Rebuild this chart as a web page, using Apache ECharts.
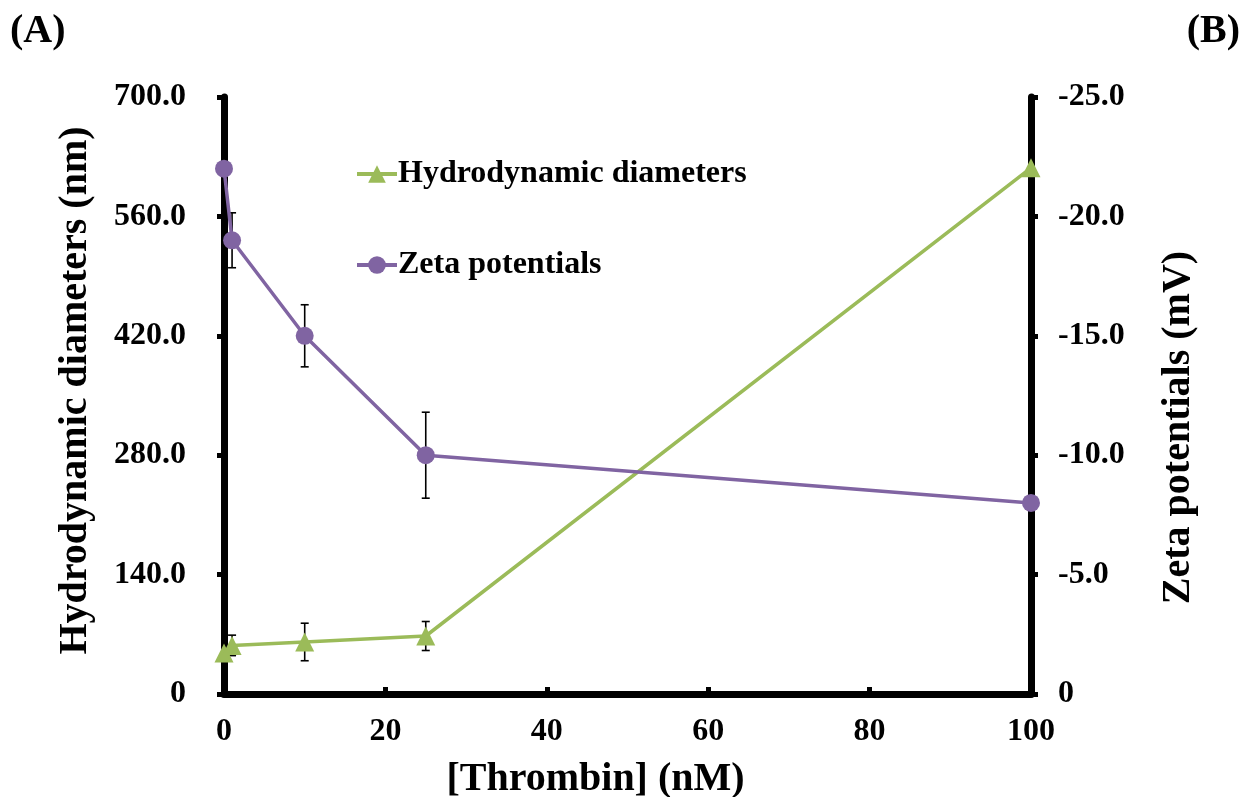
<!DOCTYPE html>
<html>
<head>
<meta charset="utf-8">
<script src="https://cdn.jsdelivr.net/npm/echarts@6/dist/echarts.min.js"></script>
<style>
  html, body { margin: 0; padding: 0; background: #fff; }
  #chart { width: 1244px; height: 797px; }
</style>
</head>
<body>
<div id="chart"></div>
<script>
// Thrombin concentration (nM)
const conc = [0, 1, 10, 25, 100];
// Hydrodynamic diameters (nm) and their error bars
const diameters = [48, 57, 61, 68, 617];
const diameterErr = [0, 12, 22, 17, 0];
// Zeta potentials (mV) and their error bars
const zeta = [-22, -19, -15, -10, -8];
const zetaErr = [0, 1.15, 1.3, 1.8, 0];

const xTicks = { min: 0, max: 100, interval: 20 };
const leftTicks = { min: 0, max: 700, interval: 140 };
const rightTicks = { min: -25, max: 0, interval: 5 };

const FONT = '"Liberation Serif", "Times New Roman", serif';
const GREEN = '#9bbb59';
const PURPLE = '#8064a2';

const pairs = (xs, ys) => xs.map((x, i) => [x, ys[i]]);
const errData = (xs, ys, es) => xs.map((x, i) => [x, ys[i], es[i]]);

function errorBar(params, api) {
  const x = api.value(0), y = api.value(1), e = api.value(2);
  if (!e) return null;
  const hi = api.coord([x, y + e]);
  const lo = api.coord([x, y - e]);
  const cap = 4;
  const style = { stroke: '#000', lineWidth: 1.6 };
  return {
    type: 'group',
    children: [
      { type: 'line', shape: { x1: hi[0], y1: hi[1], x2: lo[0], y2: lo[1] }, style },
      { type: 'line', shape: { x1: hi[0] - cap, y1: hi[1], x2: hi[0] + cap, y2: hi[1] }, style },
      { type: 'line', shape: { x1: lo[0] - cap, y1: lo[1], x2: lo[0] + cap, y2: lo[1] }, style }
    ]
  };
}

const tickLabel = v => (v === 0 ? '0' : v.toFixed(1));
const axisLine = { show: true, onZero: false, lineStyle: { color: '#000', width: 7 } };

const chart = echarts.init(document.getElementById('chart'), null, { renderer: 'canvas' });
chart.setOption({
  backgroundColor: '#fff',
  animation: false,
  textStyle: { fontFamily: FONT },
  grid: { left: 224, right: 213, top: 97, bottom: 103, containLabel: false, outerBoundsMode: 'none' },
  graphic: [
    { type: 'text', left: 10, top: 12, style: { text: '(A)', font: 'bold 40px ' + FONT, fill: '#000' } },
    { type: 'text', right: 4, top: 12, style: { text: '(B)', font: 'bold 40px ' + FONT, fill: '#000' } }
  ],
  legend: {
    orient: 'vertical',
    left: 350,
    top: 153,
    itemWidth: 40,
    itemHeight: 22,
    itemGap: 59,
    lineStyle: { width: 4 },
    textStyle: { fontFamily: FONT, fontWeight: 'bold', fontSize: 32, color: '#000', padding: [0, 0, 0, -4] },
    data: ['Hydrodynamic diameters', 'Zeta potentials']
  },
  xAxis: {
    type: 'value',
    min: xTicks.min, max: xTicks.max, interval: xTicks.interval,
    name: '[Thrombin] (nM)',
    nameLocation: 'middle',
    nameGap: 66,
    nameTextStyle: { fontFamily: FONT, fontWeight: 'bold', fontSize: 40, color: '#000', padding: [0, 64, 0, 0] },
    axisLine,
    axisTick: { show: true, inside: true, length: 7, lineStyle: { color: '#000', width: 5 } },
    axisLabel: { margin: 22, fontFamily: FONT, fontWeight: 'bold', fontSize: 32, color: '#000' },
    splitLine: { show: false }
  },
  yAxis: [
    {
      type: 'value',
      position: 'left',
      min: leftTicks.min, max: leftTicks.max, interval: leftTicks.interval,
      name: 'Hydrodynamic diameters (nm)',
      nameLocation: 'middle',
      nameGap: 128,
      nameRotate: 90,
      nameTextStyle: { fontFamily: FONT, fontWeight: 'bold', fontSize: 40, color: '#000', padding: [0, 0, 0, 10] },
      axisLine,
      axisTick: { show: true, length: 7, lineStyle: { color: '#000', width: 5 } },
      axisLabel: { margin: 38, formatter: tickLabel, fontFamily: FONT, fontWeight: 'bold', fontSize: 32, color: '#000' },
      splitLine: { show: false }
    },
    {
      type: 'value',
      position: 'right',
      inverse: true,
      min: rightTicks.min, max: rightTicks.max, interval: rightTicks.interval,
      name: 'Zeta potentials (mV)',
      nameLocation: 'middle',
      nameGap: 128,
      nameRotate: 90,
      nameTextStyle: { fontFamily: FONT, fontWeight: 'bold', fontSize: 40, color: '#000', padding: [0, 64, 0, 0] },
      axisLine,
      axisTick: { show: true, length: 7, lineStyle: { color: '#000', width: 5 } },
      axisLabel: { margin: 27, formatter: tickLabel, fontFamily: FONT, fontWeight: 'bold', fontSize: 32, color: '#000' },
      splitLine: { show: false }
    }
  ],
  series: [
    {
      type: 'custom',
      name: 'diameterErr',
      xAxisIndex: 0, yAxisIndex: 0,
      renderItem: errorBar,
      data: errData(conc, diameters, diameterErr),
      z: 1,
      silent: true
    },
    {
      type: 'custom',
      name: 'zetaErr',
      xAxisIndex: 0, yAxisIndex: 1,
      renderItem: errorBar,
      data: errData(conc, zeta, zetaErr),
      z: 1,
      silent: true
    },
    {
      type: 'line',
      name: 'Hydrodynamic diameters',
      yAxisIndex: 0,
      data: pairs(conc, diameters),
      symbol: 'triangle',
      symbolSize: 19,
      lineStyle: { color: GREEN, width: 3.5 },
      itemStyle: { color: GREEN },
      z: 3
    },
    {
      type: 'line',
      name: 'Zeta potentials',
      yAxisIndex: 1,
      data: pairs(conc, zeta),
      symbol: 'circle',
      symbolSize: 18,
      lineStyle: { color: PURPLE, width: 3.5 },
      itemStyle: { color: PURPLE },
      z: 3
    }
  ]
});
</script>
</body>
</html>
